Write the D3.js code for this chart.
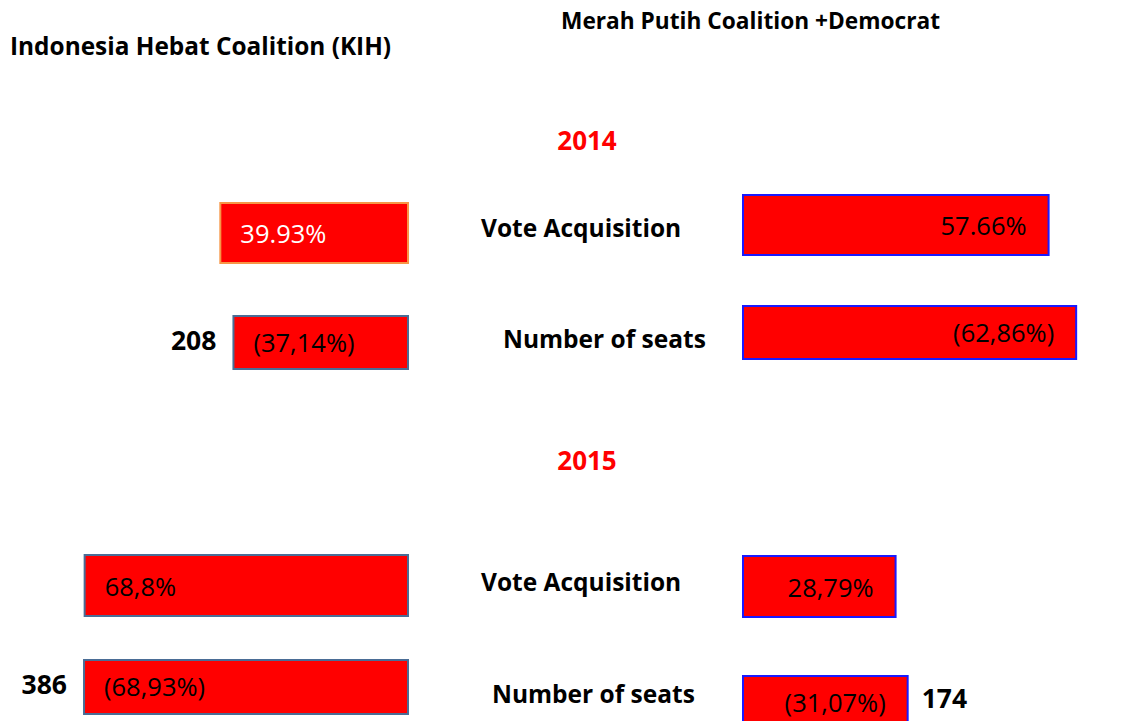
<!DOCTYPE html>
<html>
<head>
<meta charset="utf-8">
<script src="https://cdn.jsdelivr.net/npm/d3@7"></script>
<style>
  body { margin: 0; background: #fff; }
  svg { display: block; font-family: "Open Sans", "Noto Sans", sans-serif; }
</style>
</head>
<body>
<div id="chart"></div>
<script>
// data
var years = ['2014', '2015']
var metrics = ['Vote Acquisition', 'Number of seats']
var kihValues = [39.93, 37.14, 68.8, 68.93]
var kmpValues = [57.66, 62.86, 28.79, 31.07]
var kihLabels = ['39.93%', '(37,14%)', '68,8%', '(68,93%)']
var kmpLabels = ['57.66%', '(62,86%)', '28,79%', '(31,07%)']
var kihSeats = ['208', '386']
var kmpSeats = ['', '174']

var width = 1132
var height = 721

var svg = d3.select('#chart')
  .append('svg')
  .attr('width', width)
  .attr('height', height)

// each coalition panel has its own length scale
var lenLeft = d3.scaleLinear()
  .domain([0, 100])
  .range([0, 470])
var lenRight = d3.scaleLinear()
  .domain([0, 100])
  .range([0, 530])

var leftEnd = 408
var rightStart = 743

// row layout for each year x metric
var rows = [
  { h: 60, mid: 237, leftTop: 203, rightTop: 195 },
  { h: 53, mid: 348, leftTop: 316, rightTop: 306 },
  { h: 61, mid: 591, leftTop: 555, rightTop: 556 },
  { h: 54, mid: 703, leftTop: 660, rightTop: 676 }
]
var labelX = [481, 503, 481, 492]
var yearY = [150, 470]

// titles
svg.append('text')
  .attr('x', 10).attr('y', 55)
  .attr('font-size', 24.4).attr('font-weight', 'bold')
  .text('Indonesia Hebat Coalition (KIH)')

svg.append('text')
  .attr('x', 561).attr('y', 29)
  .attr('font-size', 22.7).attr('font-weight', 'bold')
  .text('Merah Putih Coalition +Democrat')

// years
svg.selectAll('.year')
  .data(years)
  .enter()
  .append('text')
  .attr('class', 'year')
  .attr('x', 587)
  .attr('y', (d, i) => yearY[i])
  .attr('text-anchor', 'middle')
  .attr('font-size', 26).attr('font-weight', 'bold')
  .attr('fill', '#ff0000')
  .text(d => d)

// metric labels in the middle
svg.selectAll('.metric')
  .data(rows)
  .enter()
  .append('text')
  .attr('class', 'metric')
  .attr('x', (d, i) => labelX[i])
  .attr('y', d => d.mid)
  .attr('font-size', 24.5).attr('font-weight', 'bold')
  .text((d, i) => metrics[i % 2])

// KIH bars grow to the left
svg.selectAll('.kih')
  .data(kihValues)
  .enter()
  .append('rect')
  .attr('class', 'kih')
  .attr('x', d => leftEnd - lenLeft(d))
  .attr('y', (d, i) => rows[i].leftTop)
  .attr('width', d => lenLeft(d))
  .attr('height', (d, i) => rows[i].h)
  .attr('fill', '#ff0000')
  .attr('stroke', (d, i) => i === 0 ? '#f79646' : '#4a6d96')
  .attr('stroke-width', 2)

svg.selectAll('.kihLabel')
  .data(kihValues)
  .enter()
  .append('text')
  .attr('class', 'kihLabel')
  .attr('x', d => leftEnd - lenLeft(d) + 20)
  .attr('y', (d, i) => rows[i].leftTop + rows[i].h * 0.67)
  .attr('font-size', 25.5)
  .attr('fill', (d, i) => i === 0 ? '#fff' : '#000')
  .text((d, i) => kihLabels[i])

// seat counts beside the KIH seat bars
svg.selectAll('.kihSeat')
  .data(kihSeats)
  .enter()
  .append('text')
  .attr('class', 'kihSeat')
  .attr('x', (d, i) => leftEnd - lenLeft(kihValues[i * 2 + 1]) - 17)
  .attr('y', (d, i) => rows[i * 2 + 1].leftTop + 34)
  .attr('text-anchor', 'end')
  .attr('font-size', 26.5).attr('font-weight', 'bold')
  .text(d => d)

// KMP bars grow to the right
svg.selectAll('.kmp')
  .data(kmpValues)
  .enter()
  .append('rect')
  .attr('class', 'kmp')
  .attr('x', rightStart)
  .attr('y', (d, i) => rows[i].rightTop)
  .attr('width', d => lenRight(d))
  .attr('height', (d, i) => rows[i].h)
  .attr('fill', '#ff0000')
  .attr('stroke', '#1a1aff')
  .attr('stroke-width', 2)

svg.selectAll('.kmpLabel')
  .data(kmpValues)
  .enter()
  .append('text')
  .attr('class', 'kmpLabel')
  .attr('x', d => rightStart + lenRight(d) - 22)
  .attr('y', (d, i) => rows[i].rightTop + rows[i].h * 0.67)
  .attr('text-anchor', 'end')
  .attr('font-size', 25.5)
  .attr('fill', '#000')
  .text((d, i) => kmpLabels[i])

svg.selectAll('.kmpSeat')
  .data(kmpSeats)
  .enter()
  .append('text')
  .attr('class', 'kmpSeat')
  .attr('x', (d, i) => rightStart + lenRight(kmpValues[i * 2 + 1]) + 14)
  .attr('y', (d, i) => rows[i * 2 + 1].rightTop + 32)
  .attr('font-size', 26.5).attr('font-weight', 'bold')
  .text(d => d)
</script>
</body>
</html>
